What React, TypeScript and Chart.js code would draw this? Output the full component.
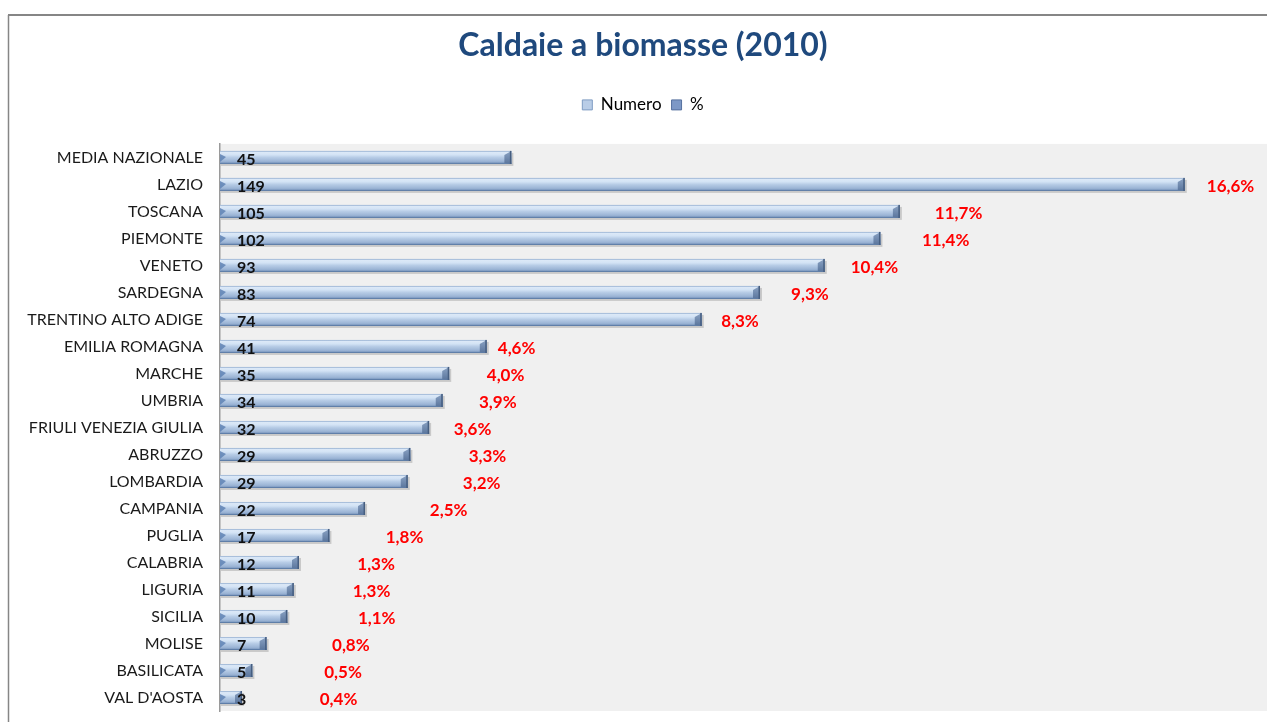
import React, { useEffect, useRef } from "react";
import { Chart, registerables } from "chart.js";

Chart.register(...registerables);

const titleText = "Caldaie a biomasse (2010)";
const legendLabels = ["Numero", "%"];
const categories = [
  "MEDIA NAZIONALE",
  "LAZIO",
  "TOSCANA",
  "PIEMONTE",
  "VENETO",
  "SARDEGNA",
  "TRENTINO ALTO ADIGE",
  "EMILIA ROMAGNA",
  "MARCHE",
  "UMBRIA",
  "FRIULI VENEZIA GIULIA",
  "ABRUZZO",
  "LOMBARDIA",
  "CAMPANIA",
  "PUGLIA",
  "CALABRIA",
  "LIGURIA",
  "SICILIA",
  "MOLISE",
  "BASILICATA",
  "VAL D'AOSTA",
];
// Numero (bar lengths; labels show the rounded value)
const numero = [45, 149, 105, 102, 93.4, 83.4, 74.4, 41.2, 35.4, 34.4, 32.3, 29.4, 29.0, 22.4, 16.9, 12.2, 11.4, 10.4, 7.2, 5.0, 3.4];
// % share
const percent = [null, 16.6, 11.7, 11.4, 10.4, 9.3, 8.3, 4.6, 4.0, 3.9, 3.6, 3.3, 3.2, 2.5, 1.8, 1.3, 1.3, 1.1, 0.8, 0.5, 0.4];
// where each % label sits, in "Numero" axis units
const percentLabelAt = [null, 152.4, 110.4, 108.4, 97.4, 88.2, 77.4, 42.9, 41.2, 40.0, 36.1, 38.4, 37.5, 32.4, 25.6, 21.2, 20.5, 21.3, 17.3, 16.1, 15.4];
const xMax = 160;

const W = 1267;
const H = 722;
const FONT = "Lato, 'Open Sans', sans-serif";

const fmtPct = (v: number) => v.toFixed(1).replace(".", ",") + "%";

const decorPlugin = {
  id: "decor",
  afterLayout(chart: any) {
    // the original chart box is wider than the visible crop: centre title/legend on it
    const shift = 11;
    for (const b of [chart.titleBlock, chart.legend]) {
      if (b) {
        b.left += shift;
        b.right += shift;
      }
    }
  },
  beforeDraw(chart: any) {
    const { ctx, chartArea } = chart;
    ctx.save();
    ctx.fillStyle = "#ffffff";
    ctx.fillRect(0, 0, W, H);
    // plot background
    ctx.fillStyle = "#f0f0f0";
    ctx.fillRect(chartArea.left, chartArea.top, W - chartArea.left, chartArea.bottom - chartArea.top);
    // outer frame (top & left visible)
    ctx.strokeStyle = "#868686";
    ctx.lineWidth = 2;
    ctx.beginPath();
    ctx.moveTo(8, 15);
    ctx.lineTo(W, 15);
    ctx.stroke();
    ctx.lineWidth = 1.5;
    ctx.beginPath();
    ctx.moveTo(8.5, 15);
    ctx.lineTo(8.5, H);
    ctx.stroke();
    ctx.restore();
  },
  afterDatasetsDraw(chart: any) {
    const { ctx } = chart;
    const xScale = chart.scales.x;
    const meta = chart.getDatasetMeta(0);
    ctx.save();
    meta.data.forEach((el: any, i: number) => {
      const { x, y, base, height } = el.getProps(["x", "y", "base", "height"], true);
      const left = Math.min(x, base);
      const right = Math.max(x, base);
      const top = y - height / 2;
      const bot = y + height / 2;
      const len = right - left;
      // shadow
      ctx.fillStyle = "rgba(0,0,0,0.16)";
      ctx.fillRect(left + 1, top + 2, len + 1, height);
      // body
      const g = ctx.createLinearGradient(0, top, 0, bot);
      g.addColorStop(0, "#8faacd");
      g.addColorStop(0.12, "#dbe8f7");
      g.addColorStop(0.3, "#d3e3f5");
      g.addColorStop(0.5, "#b7cce6");
      g.addColorStop(0.8, "#9bb4d5");
      g.addColorStop(1, "#7390b8");
      ctx.fillStyle = g;
      ctx.fillRect(left, top, len, height);
      // bottom edge
      ctx.fillStyle = "#5f7ea8";
      ctx.fillRect(left, bot - 1, len, 1);
      // left start bevel
      ctx.fillStyle = "rgba(95,130,180,0.85)";
      ctx.beginPath();
      ctx.moveTo(left, top + 3);
      ctx.lineTo(left + 6, top + 6);
      ctx.lineTo(left, bot - 2);
      ctx.closePath();
      ctx.fill();
      // end cap
      const cap = Math.min(7, len / 2);
      const gc = ctx.createLinearGradient(0, top, 0, bot);
      gc.addColorStop(0, "#8ba3c4");
      gc.addColorStop(1, "#5a759c");
      ctx.fillStyle = gc;
      ctx.beginPath();
      ctx.moveTo(right - cap, top + 4);
      ctx.lineTo(right, top);
      ctx.lineTo(right, bot);
      ctx.lineTo(right - cap, bot - 1);
      ctx.closePath();
      ctx.fill();
      ctx.fillStyle = "#465e80";
      ctx.fillRect(right - 1.5, top, 1.5, height);

      // value label
      ctx.font = `bold 16px ${FONT}`;
      ctx.fillStyle = "#111111";
      ctx.textAlign = "left";
      ctx.textBaseline = "middle";
      ctx.fillText(String(Math.round(numero[i])), base + 17, y + 2);

      // percent label
      const p = percent[i];
      const at = percentLabelAt[i];
      if (p != null && at != null) {
        ctx.font = `bold 17px ${FONT}`;
        ctx.fillStyle = "#ff0000";
        ctx.textAlign = "left";
        ctx.fillText(fmtPct(p), xScale.getPixelForValue(at), y + 2);
      }
    });
    ctx.restore();
  },
};

export default function App() {
  const ref = useRef<HTMLCanvasElement | null>(null);

  useEffect(() => {
    if (!ref.current) return;
    const chart = new Chart(ref.current, {
      type: "bar",
      data: {
        labels: categories,
        datasets: [
          {
            label: legendLabels[0],
            data: numero,
            backgroundColor: "rgba(0,0,0,0)",
            borderWidth: 0,
            barThickness: 13,
            grouped: false,
          },
          {
            label: legendLabels[1],
            data: percent as any,
            backgroundColor: "rgba(0,0,0,0)",
            borderWidth: 0,
            barThickness: 13,
            grouped: false,
          },
        ],
      },
      options: {
        indexAxis: "y",
        responsive: false,
        animation: false,
        devicePixelRatio: 1,
        layout: { padding: { top: 15, left: 8, right: 11, bottom: 11 } },
        plugins: {
          tooltip: { enabled: false },
          title: {
            display: true,
            text: titleText,
            color: "#1f497d",
            font: { family: FONT, size: 32, weight: "bold" },
            padding: { top: 11, bottom: 22 },
          },
          legend: {
            display: true,
            position: "top",
            labels: {
              font: { family: FONT, size: 17 },
              color: "#404040",
              boxWidth: 10,
              boxHeight: 10,
              padding: 10,
              generateLabels: () => [
                { text: legendLabels[0], fillStyle: "#b9cde7", strokeStyle: "#7f9cc3", lineWidth: 1, datasetIndex: 0, hidden: false },
                { text: legendLabels[1], fillStyle: "#7d98c6", strokeStyle: "#56719f", lineWidth: 1, datasetIndex: 1, hidden: false },
              ],
            },
          },
        },
        scales: {
          x: {
            position: "top",
            min: 0,
            max: xMax,
            grid: { display: false, drawTicks: false },
            border: { display: false },
            ticks: { display: false },
            afterFit: (s: any) => {
              s.height = 20.5;
            },
          },
          y: {
            grid: { display: false, drawTicks: false },
            border: { display: true, color: "#9a9a9a", width: 1.5 },
            ticks: {
              autoSkip: false,
              padding: 17,
              color: "#1a1a1a",
              font: { family: FONT, size: 16 },
            },
            afterFit: (s: any) => {
              s.width = 212;
              s.paddingTop = 0;
              s.paddingBottom = 0;
            },
          },
        },
      },
      plugins: [decorPlugin],
    });
    return () => chart.destroy();
  }, []);

  return (
    <div style={{ position: "fixed", left: 0, top: 0, width: W, height: H, background: "#fff" }}>
      <canvas ref={ref} width={W} height={H} style={{ display: "block", width: W, height: H }} />
    </div>
  );
}
